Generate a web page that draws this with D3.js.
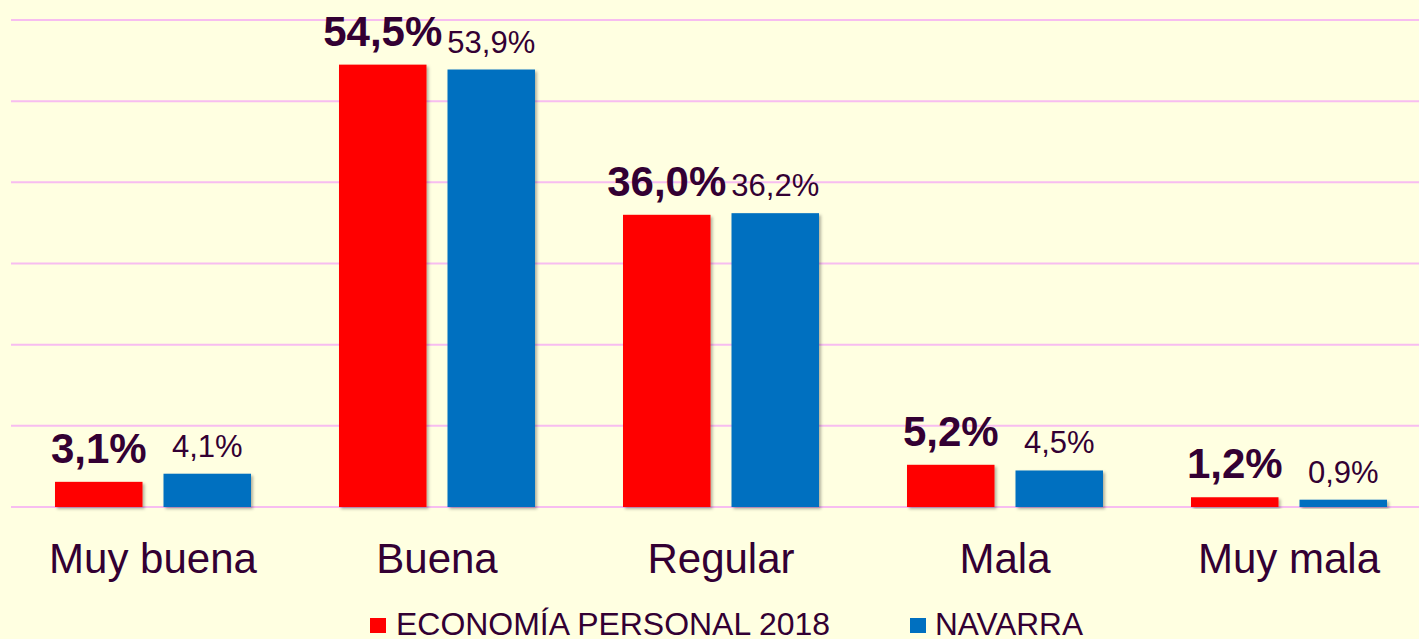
<!DOCTYPE html>
<html>
<head>
<meta charset="utf-8">
<script src="https://cdn.jsdelivr.net/npm/d3@7/dist/d3.min.js"></script>
<style>
	html, body { margin: 0; padding: 0; background: #FFFFE1; }
	svg { display: block; font-family: Arial, 'Liberation Sans', sans-serif; }
</style>
</head>
<body>
<div id="chart"></div>
<script>
// Data
const categories = ['Muy buena', 'Buena', 'Regular', 'Mala', 'Muy mala'];
const seriesNames = ['ECONOMÍA PERSONAL 2018', 'NAVARRA'];
const economia2018 = [3.1, 54.5, 36.0, 5.2, 1.2];
const navarra = [4.1, 53.9, 36.2, 4.5, 0.9];
const yTicks = [0, 10, 20, 30, 40, 50, 60];

const W = 1419, H = 639;
const margin = { top: 20, right: -12, bottom: 132, left: 11 };
const width = W - margin.left - margin.right;
const height = H - margin.top - margin.bottom;
const colors = ['#FF0000', '#0070C0'];
const textColor = '#330033';
const fmt = v => v.toFixed(1).replace('.', ',') + '%';

const svg = d3.select('#chart')
	.append('svg')
	.attr('width', W)
	.attr('height', H);

svg.append('rect').attr('width', W).attr('height', H).attr('fill', '#FFFFE1');

const defs = svg.append('defs');
const shadow = defs.append('filter')
	.attr('id', 'shadow')
	.attr('x', '-10%').attr('y', '-10%')
	.attr('width', '130%').attr('height', '130%');
shadow.append('feDropShadow')
	.attr('dx', 2).attr('dy', 2)
	.attr('stdDeviation', 1.5)
	.attr('flood-color', '#000')
	.attr('flood-opacity', 0.3);

const g = svg.append('g')
	.attr('transform', 'translate(' + margin.left + ',' + margin.top + ')');

// Scales
const x0 = d3.scaleBand()
	.domain(categories)
	.range([0, width])
	.paddingInner(0)
	.paddingOuter(0);
const groupPad = 44;
const x1 = d3.scaleBand()
	.domain(seriesNames)
	.range([groupPad, x0.bandwidth() - groupPad])
	.paddingInner(21 / 196 * 2 / (1 + 21 / 196));
const y = d3.scaleLinear()
	.domain([0, 60])
	.range([height, 0]);

// Gridlines
g.append('g')
	.attr('class', 'grid')
	.selectAll('line')
	.data(yTicks)
	.enter()
	.append('line')
	.attr('x1', 0)
	.attr('x2', W)
	.attr('y1', d => y(d))
	.attr('y2', d => y(d))
	.attr('stroke', '#F7BDF0')
	.attr('stroke-width', 2);

// Bars
const rows = categories.map((c, i) => ({
	cat: c,
	vals: [economia2018[i], navarra[i]]
}));

const groups = g.selectAll('.cat')
	.data(rows)
	.enter()
	.append('g')
	.attr('class', 'cat')
	.attr('transform', d => 'translate(' + x0(d.cat) + ',0)');

groups.selectAll('rect')
	.data(d => d.vals.map((v, j) => ({ s: seriesNames[j], v: v, j: j })))
	.enter()
	.append('rect')
	.attr('x', d => x1(d.s))
	.attr('width', x1.bandwidth())
	.attr('y', d => y(d.v))
	.attr('height', d => y(0) - y(d.v))
	.attr('fill', d => colors[d.j])
	.attr('filter', 'url(#shadow)');

groups.selectAll('text.val')
	.data(d => d.vals.map((v, j) => ({ s: seriesNames[j], v: v, j: j })))
	.enter()
	.append('text')
	.attr('class', 'val')
	.attr('x', d => x1(d.s) + x1.bandwidth() / 2)
	.attr('y', d => y(d.v) - (d.j === 0 ? 19 : 17))
	.attr('text-anchor', 'middle')
	.attr('fill', textColor)
	.attr('font-size', d => d.j === 0 ? 42 : 31)
	.attr('font-weight', d => d.j === 0 ? 'bold' : 'normal')
	.text(d => fmt(d.v));

// Category axis labels
const xAxis = d3.axisBottom(x0).tickSize(0).tickPadding(0);
const aX = g.append('g')
	.attr('class', 'x-axis')
	.attr('transform', 'translate(0,' + height + ')')
	.call(xAxis);
aX.select('.domain').remove();
aX.selectAll('text')
	.attr('y', 66)
	.attr('dy', 0)
	.attr('fill', textColor)
	.attr('font-size', 42)
	.attr('font-family', 'Arial, "Liberation Sans", sans-serif')
	.style('text-anchor', 'middle');

// Legend
const legendItems = [
	{ name: seriesNames[0], color: colors[0], mx: 370, tx: 396, tw: 434 },
	{ name: seriesNames[1], color: colors[1], mx: 910, tx: 935, tw: 148 }
];
const legend = svg.append('g').attr('class', 'legend');
legend.selectAll('rect')
	.data(legendItems)
	.enter()
	.append('rect')
	.attr('x', d => d.mx)
	.attr('y', 618)
	.attr('width', 16)
	.attr('height', 15)
	.attr('fill', d => d.color);
legend.selectAll('text')
	.data(legendItems)
	.enter()
	.append('text')
	.attr('x', d => d.tx)
	.attr('y', 635)
	.attr('fill', textColor)
	.attr('font-size', 31)
	.attr('textLength', d => d.tw)
	.attr('lengthAdjust', 'spacingAndGlyphs')
	.text(d => d.name);
</script>
</body>
</html>
